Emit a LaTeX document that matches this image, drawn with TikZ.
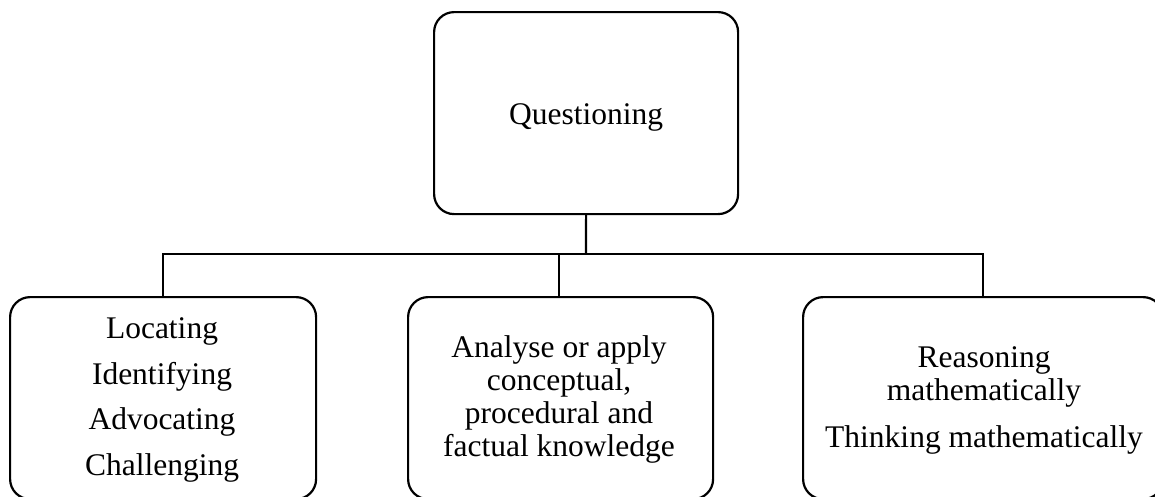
\documentclass[tikz,border=0pt]{standalone}
\usepackage{fontspec}
\setmainfont{Liberation Serif}
\begin{document}
\begin{tikzpicture}[x=1pt,y=-1pt,
  box/.style={draw=black, line width=2.2pt, rounded corners=20pt, inner sep=0pt, anchor=north west},
  txt/.style={align=center, inner sep=0pt, font=\fontsize{31.5}{33}\selectfont},
  wire/.style={draw=black, line width=2.2pt}]
\useasboundingbox (0,0) rectangle (1155,496);
% boxes
\node[box, minimum width=304pt, minimum height=202pt] (top) at (433,11) {};
\node[box, minimum width=306pt, minimum height=202pt] (b1) at (9,296) {};
\node[box, minimum width=305pt, minimum height=202pt] (b2) at (407,296) {};
\node[box, minimum width=360pt, minimum height=202pt] (b3) at (802,296) {};
% texts
\node[txt] (ttop) at ([yshift=-4pt]top.center) {Questioning};
\node[txt, font=\fontsize{31.5}{45.7}\selectfont] (t1) at (162,400) {Locating\\Identifying\\Advocating\\Challenging};
\node[txt] (t2) at (559,399) {Analyse or apply\\conceptual,\\procedural and\\factual knowledge};
\node[txt] (t3) at (984,400) {Reasoning\\mathematically\\[14pt]Thinking mathematically};
% connectors
\coordinate (bus) at (586,254);
\draw[wire] (top.south) -- (bus);
\draw[wire] (bus) -| (b1.north -| 163,0);
\draw[wire] (bus) -| (b3.north -| 983,0);
\draw[wire] (559,254) -- (b2.north -| 559,0);
\end{tikzpicture}
\end{document}
